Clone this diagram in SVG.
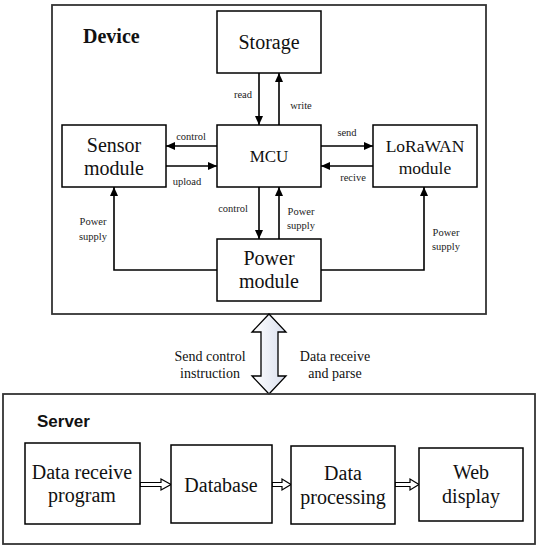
<svg xmlns="http://www.w3.org/2000/svg" width="539" height="550" viewBox="0 0 539 550">
<style>
.box{fill:#fff;stroke:#000;stroke-width:1.5}
.frame{fill:none;stroke:#333;stroke-width:1.8}
.node{font-family:"Liberation Serif",serif;font-size:20px;text-anchor:middle;fill:#111}
.lbl{font-family:"Liberation Serif",serif;font-size:10.5px;text-anchor:middle;fill:#222}
.mid{font-family:"Liberation Serif",serif;font-size:14px;text-anchor:middle;fill:#111}
.conn{fill:none;stroke:#000;stroke-width:1.6;marker-end:url(#ah)}
.hollow{fill:#fff;stroke:#000;stroke-width:1.2}
</style>
<defs>
<marker id="ah" markerUnits="userSpaceOnUse" markerWidth="9" markerHeight="8" viewBox="0 0 9 8" refX="9" refY="4" orient="auto">
<path d="M0,0 L9,4 L0,8 z" fill="#000"/>
</marker>
<linearGradient id="bg" x1="0" y1="0" x2="1" y2="0">
<stop offset="0" stop-color="#ffffff"/>
<stop offset="1" stop-color="#d9dfee"/>
</linearGradient>
</defs>
<rect width="539" height="550" fill="#fff"/>

<g id="device-frame">
<rect class="frame" x="52" y="5" width="434" height="309"/>
<text x="83" y="43" font-family="Liberation Serif,serif" font-size="20" font-weight="bold" fill="#111">Device</text>
</g>

<g id="storage"><rect class="box" x="217" y="11" width="104" height="62"/><text class="node" x="269" y="49">Storage</text></g>
<g id="sensor"><rect class="box" x="62" y="125" width="104" height="62"/><text class="node" x="114" y="152">Sensor</text><text class="node" x="114" y="175">module</text></g>
<g id="mcu"><rect class="box" x="217" y="125" width="104" height="62"/><text class="node" x="269" y="162" style="font-size:17px">MCU</text></g>
<g id="lorawan"><rect class="box" x="373" y="125" width="104" height="62"/><text class="node" x="425" y="152" style="font-size:17.5px">LoRaWAN</text><text class="node" x="425" y="174" style="font-size:17.5px">module</text></g>
<g id="power"><rect class="box" x="217" y="239" width="104" height="62"/><text class="node" x="269" y="265">Power</text><text class="node" x="269" y="288">module</text></g>

<g id="connectors">
<line class="conn" x1="259" y1="73" x2="259" y2="125"/>
<line class="conn" x1="279" y1="125" x2="279" y2="73"/>
<line class="conn" x1="217" y1="146" x2="166" y2="146"/>
<line class="conn" x1="166" y1="166" x2="217" y2="166"/>
<line class="conn" x1="321" y1="146" x2="373" y2="146"/>
<line class="conn" x1="373" y1="166" x2="321" y2="166"/>
<line class="conn" x1="259" y1="187" x2="259" y2="239"/>
<line class="conn" x1="279" y1="239" x2="279" y2="187"/>
<polyline class="conn" points="217,270 114,270 114,187"/>
<polyline class="conn" points="321,270 424,270 424,187"/>
<polygon points="269,314 286,332 278,332 278,376 286,376 269,394 252,376 261,376 261,332 252,332" fill="url(#bg)" stroke="#000" stroke-width="1.3"/>
<polygon class="hollow" points="140,482.5 161,482.5 161,479 171,484.5 161,490 161,486.5 140,486.5"/>
<polygon class="hollow" points="272,482.5 282,482.5 282,479 291,484.5 282,490 282,486.5 272,486.5"/>
<polygon class="hollow" points="395,482.5 410,482.5 410,479 419,484.5 410,490 410,486.5 395,486.5"/>
</g>

<g id="labels">
<text class="lbl" x="243" y="98">read</text>
<text class="lbl" x="301" y="109">write</text>
<text class="lbl" x="191" y="140">control</text>
<text class="lbl" x="187" y="185">upload</text>
<text class="lbl" x="347" y="136">send</text>
<text class="lbl" x="353" y="181">recive</text>
<text class="lbl" x="233" y="212">control</text>
<text class="lbl" x="301" y="215">Power</text>
<text class="lbl" x="301" y="229">supply</text>
<text class="lbl" x="93" y="225">Power</text>
<text class="lbl" x="93" y="240">supply</text>
<text class="lbl" x="446" y="236">Power</text>
<text class="lbl" x="446" y="250">supply</text>
<text class="mid" x="210" y="361">Send control</text>
<text class="mid" x="210" y="378">instruction</text>
<text class="mid" x="335" y="361">Data receive</text>
<text class="mid" x="335" y="378">and parse</text>
</g>

<g id="server-frame">
<rect class="frame" x="3" y="394" width="532" height="150"/>
<text x="37" y="427" font-family="Liberation Sans,sans-serif" font-size="17" font-weight="bold" fill="#111">Server</text>
</g>

<g id="datareceive"><rect class="box" x="25" y="443" width="115" height="81"/><text class="node" x="82" y="479">Data receive</text><text class="node" x="82" y="502">program</text></g>
<g id="database"><rect class="box" x="171" y="445" width="101" height="78"/><text class="node" x="221" y="492">Database</text></g>
<g id="dataprocessing"><rect class="box" x="291" y="446" width="104" height="78"/><text class="node" x="343" y="480">Data</text><text class="node" x="343" y="504">processing</text></g>
<g id="webdisplay"><rect class="box" x="419" y="448" width="104" height="73"/><text class="node" x="471" y="479">Web</text><text class="node" x="471" y="503">display</text></g>
</svg>
